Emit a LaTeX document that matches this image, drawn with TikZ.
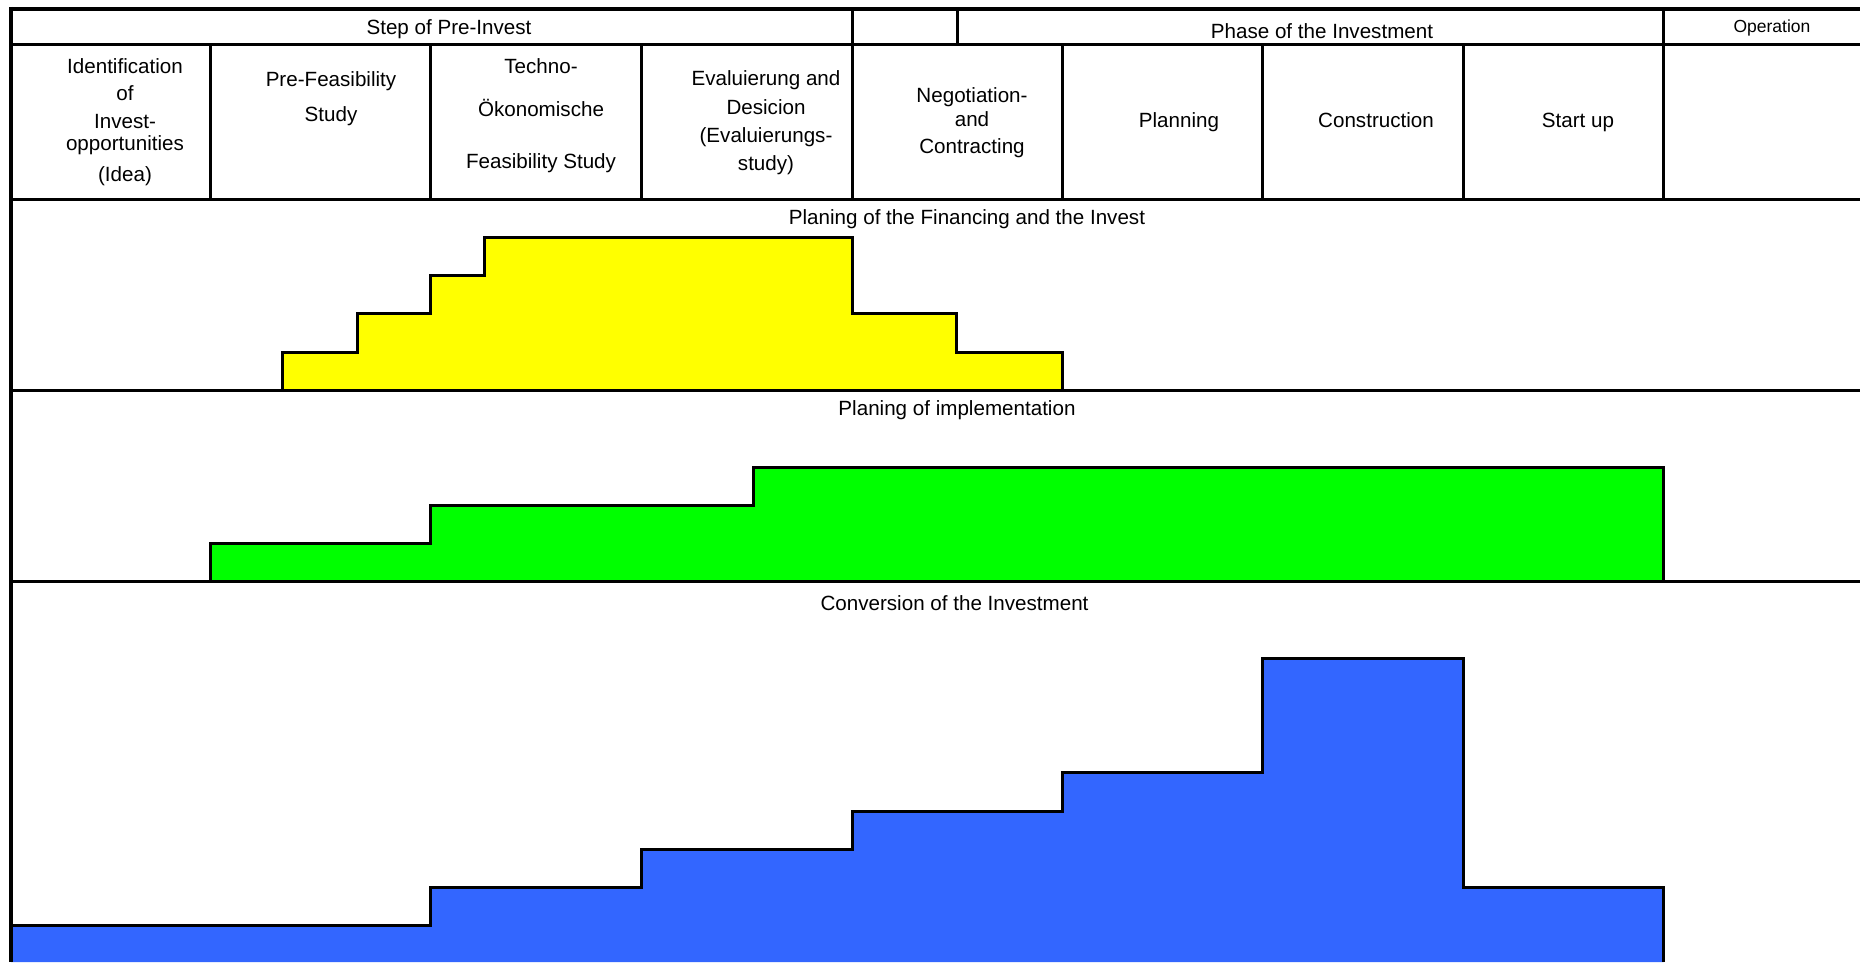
\documentclass[tikz,border=0pt]{standalone}
\usepackage{fontspec}
\setmainfont{Liberation Sans}
\definecolor{yel}{HTML}{FFFF00}
\definecolor{grn}{HTML}{00FF00}
\definecolor{blu}{HTML}{3366FF}
\begin{document}
\begin{tikzpicture}[x=1pt,y=-1pt,
  rule/.style={line width=3pt},
  border/.style={line width=4.5pt},
  lbl/.style={anchor=base, inner sep=0pt, font=\fontsize{20.6}{24}\selectfont},
  small/.style={anchor=base, inner sep=0pt, font=\fontsize{17.5}{21}\selectfont},
  outline/.style={draw=black, line width=3pt, line join=miter}]
\useasboundingbox (0,0) rectangle (1860,962);
\fill[white] (0,0) rectangle (1860,962);

% coloured step shapes
\filldraw[fill=yel, outline] (282,390) -- (282,352) -- (357,352) -- (357,313) -- (430,313) -- (430,275)
  -- (484.5,275) -- (484.5,237.5) -- (852,237.5) -- (852,313) -- (956.5,313) -- (956.5,352)
  -- (1062,352) -- (1062,390) -- cycle;
\filldraw[fill=grn, outline] (210,581) -- (210,543) -- (430,543) -- (430,505) -- (753,505) -- (753,467)
  -- (1663.5,467) -- (1663.5,581) -- cycle;
\fill[blu] (11,962) -- (11,925) -- (430,925) -- (430,887) -- (641,887) -- (641,849) -- (852,849)
  -- (852,811) -- (1062,811) -- (1062,772) -- (1262,772) -- (1262,658) -- (1463.5,658)
  -- (1463.5,887) -- (1663.5,887) -- (1663.5,962) -- cycle;
\draw[outline] (11,925) -- (430,925) -- (430,887) -- (641,887) -- (641,849) -- (852,849)
  -- (852,811) -- (1062,811) -- (1062,772) -- (1262,772) -- (1262,658) -- (1463.5,658)
  -- (1463.5,887) -- (1663.5,887) -- (1663.5,962);

% table rules
\draw[border] (11,9) -- (1860,9);
\draw[rule] (11,44.5) -- (1860,44.5);
\draw[rule] (11,199) -- (1860,199);
\draw[rule] (11,390) -- (1860,390);
\draw[rule] (11,581) -- (1860,581);
\foreach \x in {852,957,1663.5} \draw[rule] (\x,9) -- (\x,44.5);
\foreach \x in {210,430,641,852,1062,1262,1463.5,1663.5} \draw[rule] (\x,44.5) -- (\x,199);
\draw[border] (11,6.8) -- (11,962);

% header row
\node[lbl] (hpre) at (449,34.5) {Step of Pre-Invest};
\node[lbl] (hphase) at (1322,38) {Phase of the Investment};
\node[small] (hop) at (1772,32) {Operation};

% second row
\node[lbl] (c1a) at (125,73) {Identification};
\node[lbl] (c1b) at (125,100) {of};
\node[lbl] (c1c) at (125,128.5) {Invest-};
\node[lbl] (c1d) at (125,150) {opportunities};
\node[lbl] (c1e) at (125,181) {(Idea)};
\node[lbl] (c2a) at (331,86) {Pre-Feasibility};
\node[lbl] (c2b) at (331,121) {Study};
\node[lbl] (c3a) at (541,73) {Techno-};
\node[lbl] (c3b) at (541,116) {Ökonomische};
\node[lbl] (c3c) at (541,168.5) {Feasibility Study};
\node[lbl] (c4a) at (766,85) {Evaluierung and};
\node[lbl] (c4b) at (766,114) {Desicion};
\node[lbl] (c4c) at (766,142) {(Evaluierungs-};
\node[lbl] (c4d) at (766,170) {study)};
\node[lbl] (c5a) at (972,102) {Negotiation-};
\node[lbl] (c5b) at (972,126.5) {and};
\node[lbl] (c5c) at (972,153) {Contracting};
\node[lbl] (c6) at (1179,127) {Planning};
\node[lbl] (c7) at (1376,127) {Construction};
\node[lbl] (c8) at (1578,127) {Start up};

% band titles
\node[lbl] (b1) at (967,224) {Planing of the Financing and the Invest};
\node[lbl] (b2) at (957,415) {Planing of implementation};
\node[lbl] (b3) at (954.5,610) {Conversion of the Investment};
\end{tikzpicture}
\end{document}
